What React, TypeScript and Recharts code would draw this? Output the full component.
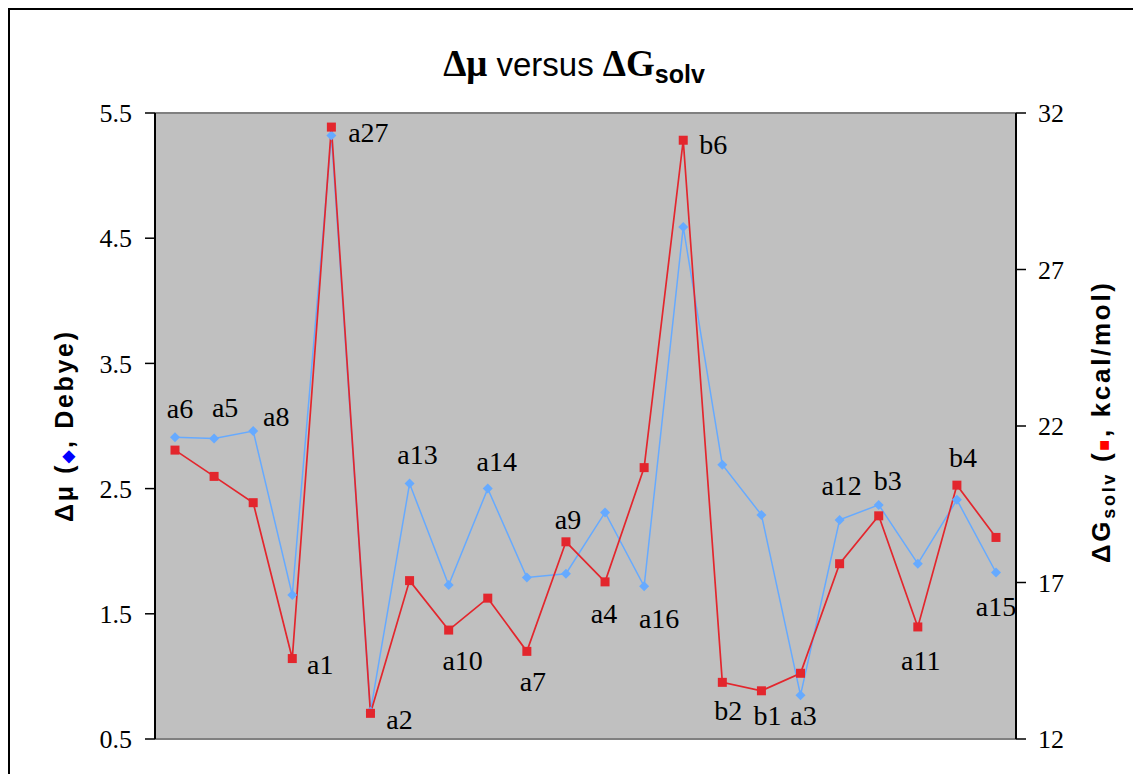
import { LineChart, Line, XAxis, YAxis, CartesianGrid, ReferenceLine } from 'recharts';

const compounds = ['a6', 'a5', 'a8', 'a1', 'a27', 'a2', 'a13', 'a10', 'a14', 'a7', 'a9', 'a4', 'a16', 'b6', 'b2', 'b1', 'a3', 'a12', 'b3', 'a11', 'b4', 'a15'];
const deltaMu = [2.91, 2.9, 2.96, 1.65, 5.32, 0.72, 2.54, 1.73, 2.5, 1.79, 1.82, 2.31, 1.72, 4.59, 2.69, 2.29, 0.85, 2.25, 2.37, 1.9, 2.41, 1.83];
const deltaGsolv = [21.23, 20.39, 19.55, 14.57, 31.55, 12.82, 17.06, 15.48, 16.5, 14.8, 18.3, 17.02, 20.67, 31.13, 13.81, 13.54, 14.1, 17.6, 19.13, 15.58, 20.11, 18.44];
const muTicks = [0.5, 1.5, 2.5, 3.5, 4.5, 5.5];
const gTicks = [12, 17, 22, 27, 32];

// which marker each name label hangs off, and its nudge (px)
const labelPlacement: [string, number, number][] = [
  ['mu', 5, -29], ['mu', 11, -32], ['mu', 23, -15], ['g', 28, 5], ['g', 37, 5], ['g', 29, 6],
  ['mu', 8, -30], ['g', 14, 30], ['mu', 9, -28], ['g', 6, 30], ['g', 2, -23], ['g', -1, 31],
  ['mu', 15, 32], ['g', 30, 4], ['g', 6, 28], ['g', 6, 24], ['mu', 3, 20], ['mu', 2, -35],
  ['mu', 9, -25], ['g', 3, 33], ['g', 6, -28], ['mu', 0, 34],
];

const data = compounds.map((name, i) => ({ name, mu: deltaMu[i], g: deltaGsolv[i] }));

const SERIF = '"Liberation Serif", "Times New Roman", serif';
const SANS = '"Liberation Sans", Arial, sans-serif';
const BLUE = '#66AAFF';
const RED = '#E3262D';

function NameLabel({ series, index, cx, cy }: { series: string; index: number; cx: number; cy: number }) {
  const p = labelPlacement[index];
  if (!p || p[0] !== series) return null;
  return (
    <text x={cx + p[1]} y={cy + p[2] + 10} textAnchor="middle" fontFamily={SERIF} fontSize={28} fill="#000">
      {compounds[index]}
    </text>
  );
}

function MuDot(props: any) {
  const { cx, cy, index } = props;
  return (
    <g key={`mu-${index}`}>
      <polygon points={`${cx},${cy - 5} ${cx + 5},${cy} ${cx},${cy + 5} ${cx - 5},${cy}`} fill={BLUE} />
      <NameLabel series="mu" index={index} cx={cx} cy={cy} />
    </g>
  );
}

function GDot(props: any) {
  const { cx, cy, index } = props;
  return (
    <g key={`g-${index}`}>
      <rect x={cx - 4.5} y={cy - 4.5} width={9} height={9} fill={RED} />
      <NameLabel series="g" index={index} cx={cx} cy={cy} />
    </g>
  );
}

export default function App() {
  const tick = { fontFamily: SERIF, fontSize: 26, fill: '#000' };
  return (
    <div style={{ position: 'relative', width: 1127, height: 766, overflow: 'hidden', background: '#fff' }}>
      <div style={{ position: 'absolute', left: 0, top: 0, width: 1127, height: 900, border: '2px solid #000', boxSizing: 'border-box' }} />
      <LineChart width={1127} height={766} data={data} margin={{ top: 105, right: 0, bottom: 35, left: 0 }} style={{ position: 'absolute', left: 0, top: 0 }}>
        <CartesianGrid fill="#C0C0C0" stroke="none" horizontal={false} vertical={false} yAxisId="mu" />
        <XAxis dataKey="name" hide height={0} padding={{ left: 20, right: 20 }} />
        <YAxis yAxisId="mu" orientation="left" width={147} domain={[0.5, 5.5]} ticks={muTicks} tick={tick} tickSize={10} tickMargin={13} axisLine={{ stroke: '#000', strokeWidth: 2 }} tickLine={{ stroke: '#000', strokeWidth: 1.5 }} allowDataOverflow />
        <YAxis yAxisId="g" orientation="right" width={119} domain={[12, 32]} ticks={gTicks} tick={tick} tickSize={10} tickMargin={12} axisLine={{ stroke: '#000', strokeWidth: 2 }} tickLine={{ stroke: '#000', strokeWidth: 1.5 }} allowDataOverflow />
        <ReferenceLine yAxisId="mu" y={5.5} stroke="#808080" strokeWidth={2} />
        <ReferenceLine yAxisId="mu" y={0.5} stroke="#808080" strokeWidth={2} />
        <Line yAxisId="mu" dataKey="mu" stroke={BLUE} strokeWidth={1.5} dot={MuDot} activeDot={false} isAnimationActive={false} />
        <Line yAxisId="g" dataKey="g" stroke={RED} strokeWidth={1.7} dot={GDot} activeDot={false} isAnimationActive={false} />
      </LineChart>
      <svg width={1127} height={766} style={{ position: 'absolute', left: 0, top: 0, pointerEvents: 'none' }}>
        <text x={566} y={68} textAnchor="middle" fill="#000">
          <tspan fontFamily={SERIF} fontWeight="bold" fontSize={37}>Δμ</tspan>
          <tspan fontFamily={SANS} fontSize={33}> versus </tspan>
          <tspan fontFamily={SERIF} fontWeight="bold" fontSize={37}>ΔG</tspan>
          <tspan fontFamily={SANS} fontWeight="bold" fontSize={25} dy={7}>solv</tspan>
        </text>
        <text transform="translate(65,419) rotate(-90)" textAnchor="middle" fontFamily={SANS} fontWeight="bold" fontSize={25} fill="#000" textLength={190} lengthAdjust="spacing">
          Δμ (<tspan fill="#0000FF" fontSize={16}>◆</tspan>, Debye)
        </text>
        <text transform="translate(1102,415) rotate(-90)" textAnchor="middle" fontFamily={SANS} fontWeight="bold" fontSize={26} fill="#000" textLength={280} lengthAdjust="spacing">
          ΔG<tspan fontSize={18} dy={5}>solv</tspan><tspan dy={-5}> (</tspan><tspan fill="#FF0000" fontSize={18}>■</tspan>, kcal/mol)
        </text>
      </svg>
    </div>
  );
}
